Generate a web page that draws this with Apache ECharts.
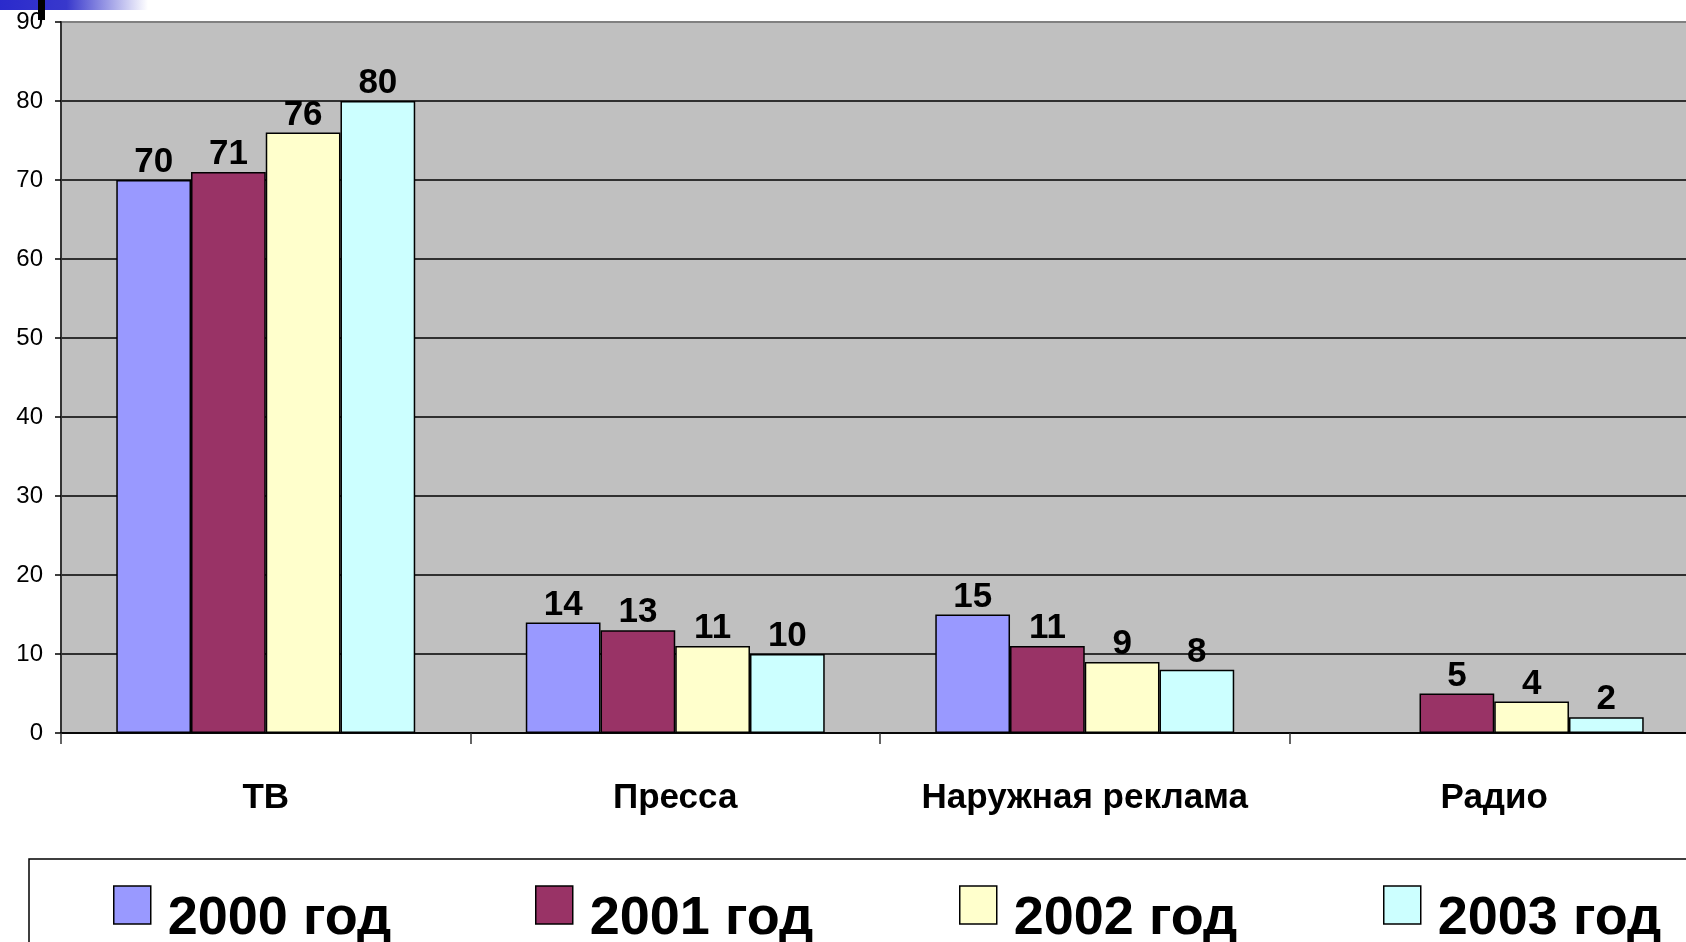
<!DOCTYPE html>
<html><head><meta charset="utf-8">
<script src="https://cdn.jsdelivr.net/npm/echarts@6/dist/echarts.min.js"></script>
<style>html,body{margin:0;padding:0;background:#fff;}#c{width:1686px;height:942px;}</style>
</head><body><div id="c"></div>
<script>
const categories = ['ТВ', 'Пресса', 'Наружная реклама', 'Радио'];
const seriesNames = ['2000 год', '2001 год', '2002 год', '2003 год'];
const v2000 = [70, 14, 15, null];
const v2001 = [71, 13, 11, 5];
const v2002 = [76, 11, 9, 4];
const v2003 = [80, 10, 8, 2];
const yTicks = [0, 10, 20, 30, 40, 50, 60, 70, 80, 90];
const colors = ['#9999FF', '#993366', '#FFFFCC', '#CCFFFF'];
const values = [v2000, v2001, v2002, v2003];

const chart = echarts.init(document.getElementById('c'));
const legendX = [113, 535, 959, 1383];
const sans = "'Liberation Sans', Arial, sans-serif";

chart.setOption({
  animation: false,
  backgroundColor: '#ffffff',
  grid: {
    left: 61, top: 22, bottom: 209, width: 1638,
    outerBoundsMode: 'none', containLabel: false,
    show: true, backgroundColor: '#C0C0C0', borderColor: '#808080', borderWidth: 2
  },
  graphic: [
    { type: 'rect', shape: { x: 29, y: 859, width: 1700, height: 200 },
      style: { fill: '#ffffff', stroke: '#000000', lineWidth: 1.5 }, z: -1 },
    { type: 'rect', shape: { x: 0, y: 0, width: 148, height: 10 },
      style: { fill: new echarts.graphic.LinearGradient(0, 0, 1, 0, [
        { offset: 0, color: '#2A2ACC' }, { offset: 0.45, color: '#3838CC' }, { offset: 1, color: '#ffffff' }]) }, z: 10 },
    { type: 'rect', shape: { x: 38, y: 0, width: 7, height: 20 }, style: { fill: '#000000' }, z: 11 }
  ],
  legend: seriesNames.map((n, i) => ({
    data: [n], left: legendX[i] - 5, top: 859, itemWidth: 37, itemHeight: 38,
    icon: 'rect', selectedMode: false,
    itemStyle: { borderColor: '#000', borderWidth: 1.5 },
    formatter: '{a|{name}}',
    textStyle: {
      color: '#000',
      rich: {
        a: { fontFamily: sans, fontWeight: 'bold', fontSize: 54, lineHeight: 38, color: '#000', padding: [28, 0, 0, 12] }
      }
    }
  })),
  xAxis: {
    type: 'category', data: categories,
    axisLine: { lineStyle: { color: '#000', width: 1.5 } },
    axisTick: { show: true, interval: 0, length: 11, lineStyle: { color: '#333', width: 1.5 } },
    axisLabel: { interval: 0, hideOverlap: false, color: '#000', fontFamily: sans, fontWeight: 'bold', fontSize: 35, margin: 48 },
    splitLine: { show: false }
  },
  yAxis: {
    type: 'value', min: 0, max: 90, interval: 10,
    axisLine: { show: true, lineStyle: { color: '#333', width: 2 } },
    axisTick: { show: true, length: 6, lineStyle: { color: '#000', width: 1.5 } },
    axisLabel: { color: '#000', fontFamily: sans, fontSize: 24, margin: 18,
      formatter: v => yTicks.includes(v) ? String(v) : '' },
    splitLine: { show: true, showMaxLine: false, lineStyle: { color: '#000', width: 1.5 } }
  },
  series: values.map((d, i) => ({
    name: seriesNames[i], type: 'bar', data: d,
    barGap: '0%', barCategoryGap: '27%',
    itemStyle: { color: colors[i], borderColor: '#000', borderWidth: 1.5 },
    label: { show: true, position: 'top', distance: 0, color: '#000',
      fontFamily: sans, fontWeight: 'bold', fontSize: 35 }
  }))
});
</script>
</body></html>
